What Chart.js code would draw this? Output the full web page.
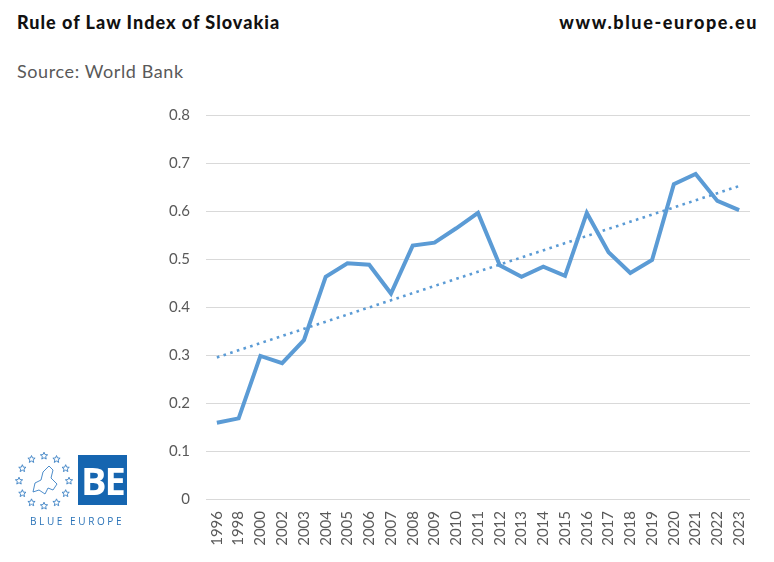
<!DOCTYPE html>
<html>
<head>
<meta charset="utf-8">
<script src="https://cdn.jsdelivr.net/npm/chart.js@4.4.1/dist/chart.umd.min.js"></script>
<style>
  html, body { margin: 0; padding: 0; background: #fff; }
  #wrap { position: relative; width: 774px; height: 562px; overflow: hidden; font-family: Lato, "Open Sans", sans-serif; }
  #title { position: absolute; left: 17px; top: 11px; font-size: 18px; font-weight: 900; color: #111; letter-spacing: 1px; }
  #site { position: absolute; right: 16px; top: 11px; font-size: 18px; font-weight: 900; color: #111; letter-spacing: 1.6px; }
  #source { position: absolute; left: 17px; top: 60px; font-size: 18px; color: #595959; letter-spacing: 0.6px; }
  #chartBox { position: absolute; left: 0; top: 0; width: 774px; height: 562px; }
  #logo { position: absolute; left: 15px; top: 450px; }
  #be { position: absolute; left: 78px; top: 455px; width: 49px; height: 50px; background: #1565b0;
        color: #fff; font: bold 38px "Open Sans", sans-serif; line-height: 50px; text-align: center; letter-spacing: -2px; }
  #beText { position: absolute; left: 30px; top: 514px; font: 10px "Open Sans", sans-serif; color: #2a73b8; letter-spacing: 2.6px; }
</style>
</head>
<body>
<div id="wrap">
  <div id="title">Rule of Law Index of Slovakia</div>
  <div id="site">www.blue-europe.eu</div>
  <div id="source">Source: World Bank</div>
  <div id="chartBox"><canvas id="ruleChart" width="774" height="562"></canvas></div>
  <canvas id="logo" width="60" height="60"></canvas>
  <div id="be">BE</div>
  <div id="beText">BLUE EUROPE</div>
</div>
<script>
const years = ['1996', '1998', '2000', '2002', '2003', '2004', '2005', '2006', '2007', '2008',
    '2009', '2010', '2011', '2012', '2013', '2014', '2015', '2016', '2017', '2018',
    '2019', '2020', '2021', '2022', '2023'];
const ruleOfLaw = [0.159, 0.168, 0.298, 0.283, 0.331, 0.463, 0.491, 0.488, 0.428, 0.528,
    0.534, 0.564, 0.596, 0.487, 0.463, 0.484, 0.465, 0.596, 0.514, 0.471,
    0.498, 0.656, 0.677, 0.621, 0.602];
// linear trend line (start / end)
const trendYears = ['1996', '2023'];
const trendValues = [0.295, 0.652];

document.addEventListener("DOMContentLoaded", function() {
    // logo: ring of stars
    const lc = document.getElementById('logo').getContext('2d');
    lc.strokeStyle = '#3a80c4';
    lc.lineWidth = 0.9;
    function star(cx, cy, r) {
        lc.beginPath();
        for (let i = 0; i < 10; i++) {
            const a = -Math.PI / 2 + i * Math.PI / 5;
            const rr = i % 2 === 0 ? r : r * 0.45;
            lc.lineTo(cx + rr * Math.cos(a), cy + rr * Math.sin(a));
        }
        lc.closePath();
        lc.stroke();
    }
    for (let i = 0; i < 12; i++) {
        const a = i * Math.PI / 6;
        star(29 + 25 * Math.sin(a), 31 - 25 * Math.cos(a), 3.8);
    }
    // rough map outline
    lc.beginPath();
    lc.moveTo(18, 42); lc.lineTo(20, 33); lc.lineTo(26, 30); lc.lineTo(28, 22);
    lc.lineTo(34, 16); lc.lineTo(38, 20); lc.lineTo(36, 28); lc.lineTo(42, 34);
    lc.lineTo(38, 40); lc.lineTo(33, 38); lc.lineTo(30, 44); lc.lineTo(24, 40); lc.closePath();
    lc.stroke();

    const trendData = trendYears.map((y, i) => ({x: y, y: trendValues[i]}));

    new Chart(document.getElementById('ruleChart').getContext('2d'), {
        type: 'line',
        data: {
            labels: years,
            datasets: [{
                label: 'Rule of Law',
                data: ruleOfLaw,
                borderColor: '#5b9bd5',
                borderWidth: 4,
                pointRadius: 0,
                tension: 0,
                borderJoinStyle: 'miter'
            }, {
                label: 'Trend',
                data: trendData,
                borderColor: '#5b9bd5',
                borderWidth: 2.6,
                borderDash: [2.6, 4.4],
                pointRadius: 0,
                tension: 0
            }]
        },
        options: {
            responsive: false,
            animation: false,
            layout: {padding: {left: 156, right: 24, top: 115, bottom: 0}},
            plugins: {
                legend: {display: false},
                tooltip: {enabled: false}
            },
            scales: {
                x: {
                    offset: true,
                    grid: {display: false},
                    border: {display: false},
                    ticks: {
                        color: '#595959',
                        font: {family: 'Lato', size: 15},
                        maxRotation: 90, minRotation: 90,
                        autoSkip: false,
                        padding: 4
                    },
                    afterFit: (scale) => { scale.height = 63; }
                },
                y: {
                    min: 0, max: 0.8,
                    grid: {color: '#d9d9d9', lineWidth: 1, drawTicks: false},
                    border: {display: false},
                    ticks: {
                        stepSize: 0.1,
                        color: '#595959',
                        font: {family: 'Lato', size: 15},
                        padding: 16,
                        callback: (v) => (Math.round(v * 10) / 10).toString()
                    },
                    afterFit: (scale) => { scale.width = 50; }
                }
            }
        }
    });
});
</script>
</body>
</html>
